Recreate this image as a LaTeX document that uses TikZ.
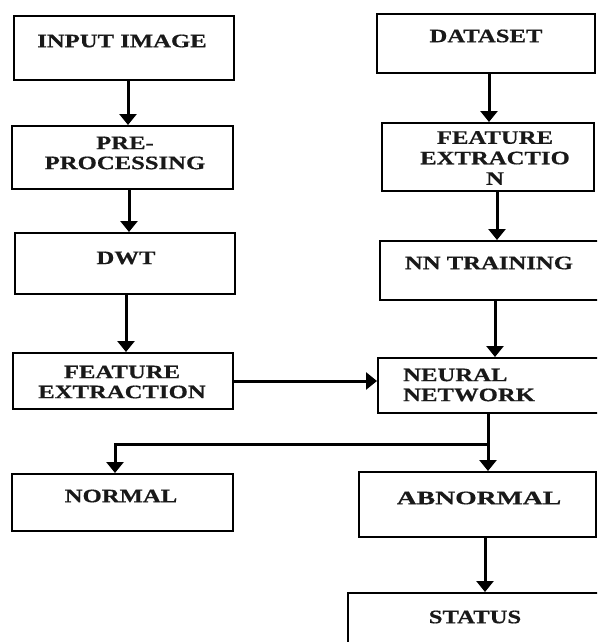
\documentclass[tikz,border=0pt]{standalone}
\usepackage{fontspec}
\setmainfont{Liberation Serif}[FakeStretch=1.3,BoldFeatures={FakeBold=0.6}]
\usetikzlibrary{arrows.meta}
\begin{document}
\begin{tikzpicture}[x=1pt,y=-1pt,
  box/.style={draw=black,line width=2pt,inner sep=0pt},
  txt/.style={font=\fontsize{19}{20}\selectfont\bfseries,align=center,inner sep=0pt,text=black!90},
  arr/.style={line width=3pt,-{Triangle[width=17pt,length=11pt]}}]
\useasboundingbox (0,0) rectangle (597,642);
\clip (0,0) rectangle (597,642);
% boxes
\node[box,minimum width=220pt,minimum height=64pt] (in) at (124,48) {};
\node[box,minimum width=221pt,minimum height=63pt] (pre) at (122.5,157.5) {};
\node[box,minimum width=220pt,minimum height=61pt] (dwt) at (125,263.5) {};
\node[box,minimum width=220pt,minimum height=56pt] (fel) at (123,381) {};
\node[box,minimum width=221pt,minimum height=57pt] (nor) at (122.5,502.5) {};
\node[box,minimum width=218pt,minimum height=59pt] (ds) at (486,43.5) {};
\node[box,minimum width=212pt,minimum height=68pt] (fer) at (488,157) {};
\node[box,minimum width=220pt,minimum height=59pt] (nn) at (490,270.5) {};
\node[box,minimum width=222pt,minimum height=55pt] (neu) at (489,385.5) {};
\node[box,minimum width=237pt,minimum height=65pt] (ab) at (477.5,504.5) {};
\node[box,minimum width=252pt,minimum height=57pt] (st) at (474,621.5) {};
% texts
\node[txt] (tin) at (122,41) {INPUT IMAGE};
\node[txt] (tpre) at (125,153) {PRE-\\PROCESSING};
\node[txt] (tdwt) at (126,258) {DWT};
\node[txt] (tfel) at (122,382) {FEATURE\\EXTRACTION};
\node[txt] (tnor) at (121,496) {NORMAL};
\node[txt] (tds) at (486,36) {DATASET};
\node[txt,font=\fontsize{19}{20.5}\selectfont\bfseries] (tfer) at (495,158) {FEATURE\\EXTRACTIO\\N};
\node[txt] (tnn) at (489,263) {NN TRAINING};
\node[txt,align=left,anchor=west] (tneu) at (403,385) {NEURAL\\NETWORK};
\node[txt] (tab) at (479,498) {\scalebox{1.12}[1]{ABNORMAL}};
\node[txt] (tst) at (475,617) {STATUS};
% connectors
\draw[arr] (in.south -| 128,0) -- (pre.north -| 128,0);
\draw[arr] (pre.south -| 129,0) -- (dwt.north -| 129,0);
\draw[arr] (dwt.south -| 126,0) -- (fel.north -| 126,0);
\draw[arr] (ds.south -| 489,0) -- (fer.north -| 489,0);
\draw[arr] (fer.south -| 497,0) -- (nn.north -| 497,0);
\draw[arr] (nn.south -| 495,0) -- (neu.north -| 495,0);
\draw[arr] (fel.east |- 0,381) -- (neu.west |- 0,381);
\draw[arr] (neu.south -| 488,0) -- (ab.north -| 488,0);
\coordinate (j) at (488,444);
\draw[arr] (j) -| (nor.north -| 115,0);
\draw[arr] (ab.south -| 485,0) -- (st.north -| 485,0);
\end{tikzpicture}
\end{document}
